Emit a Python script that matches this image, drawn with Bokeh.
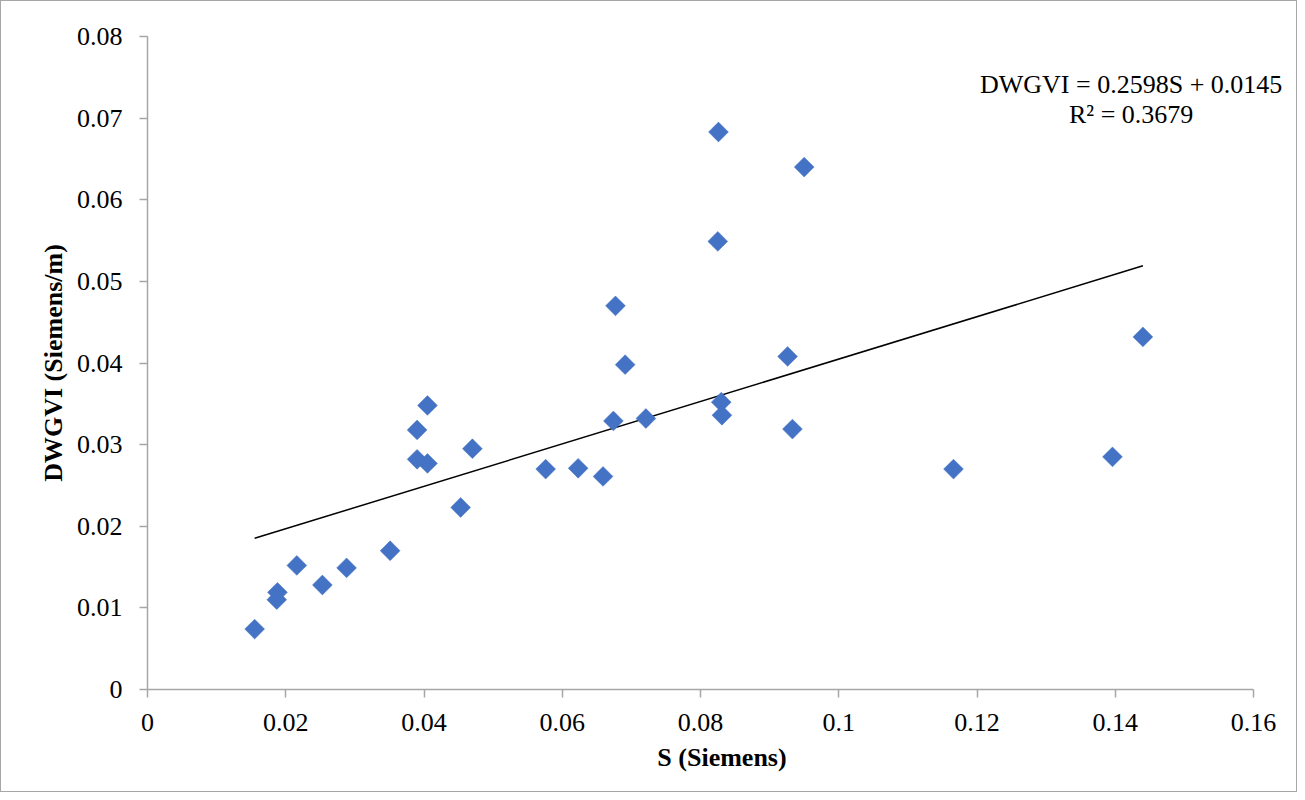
import numpy as np
from bokeh.plotting import figure
from bokeh.models import Range1d, FixedTicker, Label, ColumnDataSource
from bokeh.embed import file_html
from bokeh.resources import INLINE

# Data
s_values = [0.0155, 0.0188, 0.0187, 0.0216, 0.0253, 0.0288, 0.0351, 0.0453,
            0.0405, 0.0390, 0.0390, 0.0405, 0.0470, 0.0576, 0.0623, 0.0659,
            0.0674, 0.0677, 0.0691, 0.0721, 0.0830, 0.0831, 0.0926, 0.0933,
            0.0826, 0.0950, 0.0825, 0.1166, 0.1396, 0.1440]
dwgvi_values = [0.0074, 0.0119, 0.0110, 0.0152, 0.0128, 0.0149, 0.0170, 0.0223,
                0.0348, 0.0318, 0.0282, 0.0277, 0.0295, 0.0270, 0.0271, 0.0261,
                0.0329, 0.0470, 0.0398, 0.0332, 0.0352, 0.0336, 0.0408, 0.0319,
                0.0683, 0.0640, 0.0549, 0.0270, 0.0285, 0.0432]

trend_slope = 0.2598
trend_intercept = 0.0145
equation_text = "DWGVI = 0.2598S + 0.0145"
r2_text = "R² = 0.3679"

x_ticks = [0, 0.02, 0.04, 0.06, 0.08, 0.1, 0.12, 0.14, 0.16]
x_tick_labels = ["0", "0.02", "0.04", "0.06", "0.08", "0.1", "0.12", "0.14", "0.16"]
y_ticks = [0, 0.01, 0.02, 0.03, 0.04, 0.05, 0.06, 0.07, 0.08]
y_tick_labels = ["0", "0.01", "0.02", "0.03", "0.04", "0.05", "0.06", "0.07", "0.08"]

FONT = "Liberation Serif"
AXIS_COLOR = "#a6a6a6"

W, H = 1297, 792
LEFT, TOP, RIGHT_AXIS_PX, BOTTOM = 146, 35, 1252, 688
frame_right = W - 2
x_max = 0.16
x_end = x_max * (frame_right - LEFT) / (RIGHT_AXIS_PX - LEFT)

p = figure(width=W, height=H, output_backend="svg", toolbar_location=None,
           x_range=Range1d(0, x_end), y_range=Range1d(0, 0.08),
           min_border_left=LEFT, min_border_right=W - frame_right,
           min_border_top=TOP, min_border_bottom=H - BOTTOM)
p.styles = {"border": "1px solid #a6a6a6"}
p.outline_line_color = None
p.xgrid.grid_line_color = None
p.ygrid.grid_line_color = None
p.background_fill_color = "white"
p.border_fill_color = "white"

# Trendline
tx = np.array([min(s_values), max(s_values)])
ty = trend_slope * tx + trend_intercept
p.line(tx, ty, line_color="black", line_width=1.5)

src = ColumnDataSource(dict(x=s_values, y=dwgvi_values))
p.scatter("x", "y", source=src, marker="square", size=14, angle=np.pi / 4,
          fill_color="#4472C4", line_color="#4472C4", line_width=0.5)

for ax in (p.xaxis, p.yaxis):
    ax.axis_line_color = AXIS_COLOR
    ax.axis_line_width = 1.5
    ax.major_tick_line_color = AXIS_COLOR
    ax.major_tick_line_width = 1.5
    ax.major_tick_out = 8
    ax.major_tick_in = 0
    ax.minor_tick_line_color = None
    ax.major_label_text_font = FONT
    ax.major_label_text_font_size = "26px"
    ax.major_label_text_color = "black"
    ax.axis_label_text_font = FONT
    ax.axis_label_text_font_size = "26px"
    ax.axis_label_text_font_style = "bold"
    ax.axis_label_text_color = "black"

p.xaxis.bounds = (0, x_max)
p.xaxis.ticker = FixedTicker(ticks=x_ticks)
p.xaxis.major_label_overrides = {t: l for t, l in zip(x_ticks, x_tick_labels)}
p.yaxis.ticker = FixedTicker(ticks=y_ticks)
p.yaxis.major_label_overrides = {t: l for t, l in zip(y_ticks, y_tick_labels)}
p.xaxis.axis_label = "S (Siemens)"
p.yaxis.axis_label = "DWGVI (Siemens/m)"
p.xaxis.major_label_standoff = 16
p.yaxis.major_label_standoff = 17
p.xaxis.axis_label_standoff = 9
p.yaxis.axis_label_standoff = 6

p.add_layout(Label(x=0.1423, y=0.0741, text=equation_text, text_font=FONT,
                   text_font_size="26px", text_align="center",
                   text_baseline="middle", text_color="black"))
p.add_layout(Label(x=0.1423, y=0.0704, text=r2_text, text_font=FONT,
                   text_font_size="26px", text_align="center",
                   text_baseline="middle", text_color="black"))

open("out.html", "w").write(file_html(p, INLINE))
